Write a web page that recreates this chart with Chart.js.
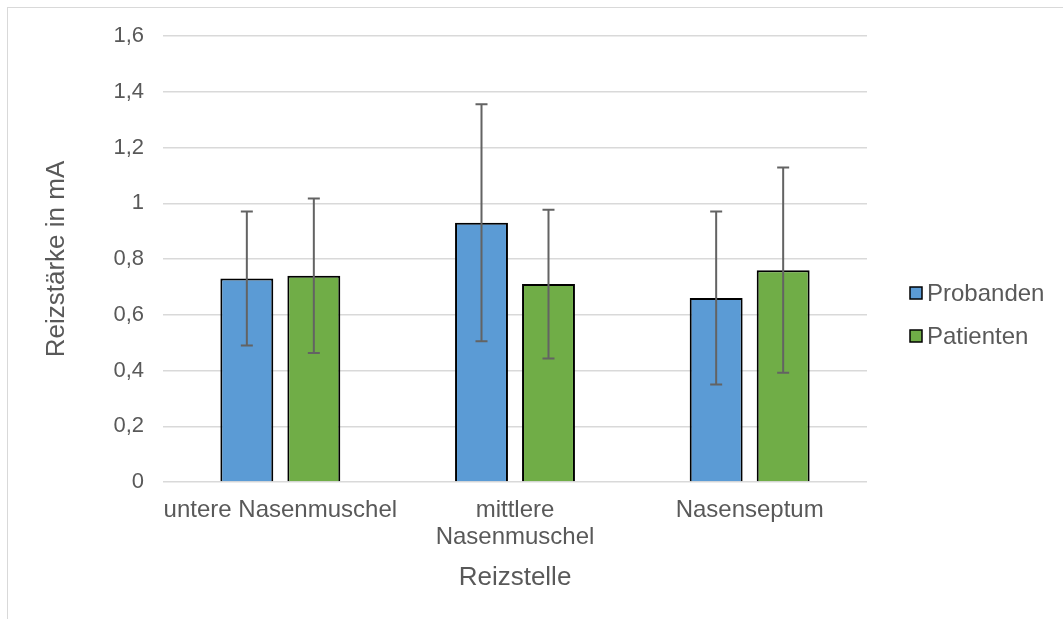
<!DOCTYPE html>
<html>
<head>
<meta charset="utf-8">
<script src="https://cdn.jsdelivr.net/npm/chart.js@4/dist/chart.umd.min.js"></script>
<style>
  html, body { margin: 0; padding: 0; background: #fff; overflow: hidden; }
  #frame { position: absolute; left: 7px; top: 7px; width: 1200px; height: 800px; border: 1.5px solid #d9d9d9; }
  #wrap { position: absolute; left: 0; top: 0; width: 1063px; height: 619px; }
</style>
</head>
<body>
<div id="frame"></div>
<div id="wrap"><canvas id="reizChart"></canvas></div>
<script>
const categories = ["untere Nasenmuschel", ["mittlere", "Nasenmuschel"], "Nasenseptum"];
const probanden = [0.73, 0.93, 0.66];
const patienten = [0.74, 0.71, 0.76];
const probandenErr = [0.24, 0.425, 0.31];
const patientenErr = [0.277, 0.267, 0.368];
const yTicks = [0, 0.2, 0.4, 0.6, 0.8, 1, 1.2, 1.4, 1.6];

const textColor = "#595959";
const fontFamily = "'Liberation Sans', Arial, sans-serif";

// whiskers drawn from the error arrays through the y scale
const errorBars = {
  id: "errorBars",
  afterDatasetsDraw(chart) {
    const ctx = chart.ctx;
    const y = chart.scales.y;
    chart.data.datasets.forEach((ds, i) => {
      const meta = chart.getDatasetMeta(i);
      meta.data.forEach((bar, j) => {
        const v = ds.data[j];
        const e = ds.errors[j];
        const top = y.getPixelForValue(v + e);
        const bottom = y.getPixelForValue(v - e);
        ctx.save();
        ctx.strokeStyle = "#636363";
        ctx.lineWidth = 2;
        ctx.beginPath();
        ctx.moveTo(bar.x, top);
        ctx.lineTo(bar.x, bottom);
        ctx.moveTo(bar.x - 6, top);
        ctx.lineTo(bar.x + 6, top);
        ctx.moveTo(bar.x - 6, bottom);
        ctx.lineTo(bar.x + 6, bottom);
        ctx.stroke();
        ctx.restore();
      });
    });
  }
};

// legend on the right, like the original
const sideLegend = {
  id: "sideLegend",
  afterDraw(chart) {
    const ctx = chart.ctx;
    const x = 910;
    const rows = [293, 336];
    ctx.save();
    ctx.font = "24px " + fontFamily;
    ctx.textBaseline = "middle";
    chart.data.datasets.forEach((ds, i) => {
      const cy = rows[i];
      ctx.fillStyle = ds.backgroundColor;
      ctx.fillRect(x, cy - 6, 12, 12);
      ctx.strokeStyle = "#000";
      ctx.lineWidth = 1.5;
      ctx.strokeRect(x, cy - 6, 12, 12);
      ctx.fillStyle = textColor;
      ctx.fillText(ds.label, x + 17, cy + 1);
    });
    ctx.restore();
  }
};

new Chart(document.getElementById("reizChart"), {
  type: "bar",
  data: {
    labels: categories,
    datasets: [
      {
        label: "Probanden",
        data: probanden,
        errors: probandenErr,
        backgroundColor: "#5b9bd5",
        borderColor: "#000",
        borderWidth: 2,
        categoryPercentage: 0.571,
        barPercentage: 0.79
      },
      {
        label: "Patienten",
        data: patienten,
        errors: patientenErr,
        backgroundColor: "#70ad47",
        borderColor: "#000",
        borderWidth: 2,
        categoryPercentage: 0.571,
        barPercentage: 0.79
      }
    ]
  },
  options: {
    responsive: true,
    maintainAspectRatio: false,
    animation: false,
    layout: { padding: { top: 36, right: 196, bottom: 0, left: 0 } },
    plugins: {
      legend: { display: false },
      tooltip: { enabled: false }
    },
    scales: {
      x: {
        afterFit: (s) => { s.height = 137; },
        grid: { display: false, drawTicks: false },
        border: { display: false },
        ticks: {
          color: textColor,
          font: { family: fontFamily, size: 24, lineHeight: 1.16 },
          padding: 14,
          maxRotation: 0,
          autoSkip: false
        },
        title: {
          display: true,
          text: "Reizstelle",
          color: textColor,
          font: { family: fontFamily, size: 26 },
          padding: { top: 0, bottom: 26 }
        }
      },
      y: {
        min: 0,
        max: 1.6,
        afterFit: (s) => { s.width = 163; },
        afterBuildTicks: (s) => { s.ticks = yTicks.map((v) => ({ value: v })); },
        grid: { color: "#d9d9d9", lineWidth: 1.5, drawTicks: false },
        border: { display: false },
        ticks: {
          color: textColor,
          font: { family: fontFamily, size: 22 },
          padding: 19,
          callback: (v) => String(Math.round(v * 10) / 10).replace(".", ",")
        },
        title: {
          display: true,
          text: "Reizstärke in mA",
          color: textColor,
          font: { family: fontFamily, size: 26 },
          padding: { top: 41, bottom: 0 }
        }
      }
    }
  },
  plugins: [errorBars, sideLegend]
});
</script>
</body>
</html>
